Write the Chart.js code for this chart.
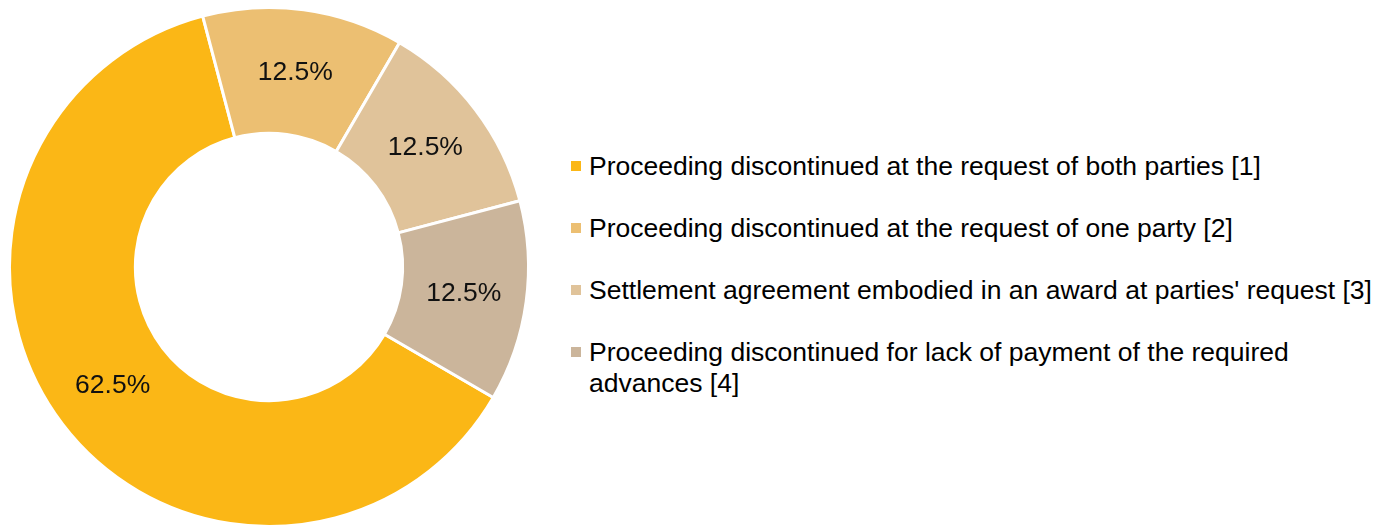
<!DOCTYPE html>
<html>
<head>
<meta charset="utf-8">
<script src="https://cdn.jsdelivr.net/npm/chart.js@4/dist/chart.umd.min.js"></script>
<style>
  html, body { margin: 0; padding: 0; background: #fff; }
  body { width: 1393px; height: 525px; position: relative; overflow: hidden;
         font-family: "Liberation Sans", Arial, sans-serif; }
  #wrap { position: absolute; left: 0; top: 6px; width: 538px; height: 522px; }
  #legend { position: absolute; left: 571px; top: 151px; width: 805px;
            font-size: 26.5px; line-height: 31px; color: #000; }
  .item { position: relative; padding-left: 18px; margin-bottom: 31px; }
  .box { position: absolute; left: 0; top: 10px; width: 10px; height: 10px; }
</style>
</head>
<body>
<div id="wrap"><canvas id="myChart"></canvas></div>
<div id="legend"></div>
<script>
const categories = [
  'Proceeding discontinued at the request of both parties [1]',
  'Proceeding discontinued at the request of one party [2]',
  "Settlement agreement embodied in an award at parties' request [3]",
  'Proceeding discontinued for lack of payment of the required advances [4]'
];
const shares = [62.5, 12.5, 12.5, 12.5];
const colours = ['#FBB716', '#ECBF72', '#E0C39A', '#CBB59B'];

// legend (html, built from the same arrays)
const legend = document.getElementById('legend');
categories.forEach((name, i) => {
  const item = document.createElement('div');
  item.className = 'item';
  const box = document.createElement('span');
  box.className = 'box';
  box.style.background = colours[i];
  item.appendChild(box);
  item.appendChild(document.createTextNode(name));
  legend.appendChild(item);
});

// write the percentage in the middle of each slice
const sliceLabels = {
  id: 'sliceLabels',
  afterDatasetsDraw(chart) {
    const c = chart.ctx;
    const meta = chart.getDatasetMeta(0);
    c.save();
    c.font = '26.5px "Liberation Sans", Arial, sans-serif';
    c.fillStyle = '#111';
    c.textAlign = 'center';
    c.textBaseline = 'middle';
    meta.data.forEach((arc, i) => {
      const pos = arc.tooltipPosition();
      c.fillText(shares[i].toFixed(1) + '%', pos.x, pos.y);
    });
    c.restore();
  }
};

const ctx = document.getElementById('myChart');
new Chart(ctx, {
  type: 'doughnut',
  data: {
    labels: categories,
    datasets: [{
      data: shares,
      backgroundColor: colours,
      borderColor: '#fff',
      borderWidth: 3
    }]
  },
  options: {
    responsive: true,
    maintainAspectRatio: false,
    animation: false,
    rotation: 120.2,
    cutout: '51.5%',
    layout: { padding: 0 },
    plugins: {
      legend: { display: false },
      tooltip: { enabled: false }
    }
  },
  plugins: [sliceLabels]
});
</script>
</body>
</html>
